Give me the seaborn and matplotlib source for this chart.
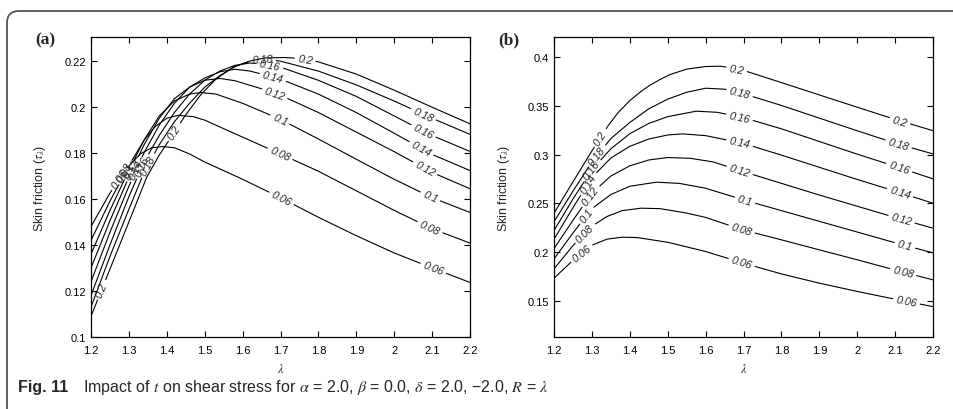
import numpy as np
import pandas as pd
import matplotlib
matplotlib.use("Agg")
import matplotlib.pyplot as plt
import matplotlib.patches as mpatches
from matplotlib.transforms import IdentityTransform
import seaborn as sns

# ---------------- data: panel (a) ----------------
t_labels = ["0.06", "0.08", "0.1", "0.12", "0.14", "0.16", "0.18", "0.2"]

a_006_x = [1.2, 1.25, 1.29, 1.33, 1.36, 1.39, 1.42, 1.46, 1.5, 1.6, 1.7, 1.8, 1.9, 2.0, 2.1, 2.2]
a_006_y = [0.148, 0.1625, 0.1725, 0.1795, 0.1822, 0.1827, 0.1822, 0.1795, 0.176, 0.1685, 0.1605, 0.152, 0.144, 0.1365, 0.130, 0.1237]
a_008_x = [1.2, 1.25, 1.3, 1.34, 1.37, 1.4, 1.43, 1.47, 1.5, 1.6, 1.7, 1.8, 1.9, 2.0, 2.1, 2.2]
a_008_y = [0.142, 0.159, 0.1745, 0.1855, 0.1915, 0.195, 0.1963, 0.1957, 0.1942, 0.1868, 0.1795, 0.172, 0.1635, 0.155, 0.147, 0.1408]
a_010_x = [1.2, 1.25, 1.3, 1.34, 1.38, 1.42, 1.46, 1.49, 1.53, 1.6, 1.7, 1.8, 1.9, 2.0, 2.1, 2.2]
a_010_y = [0.136, 0.155, 0.1725, 0.1855, 0.196, 0.2025, 0.2055, 0.2062, 0.2055, 0.2015, 0.1945, 0.186, 0.1772, 0.1685, 0.1605, 0.1541]
a_012_x = [1.2, 1.25, 1.3, 1.34, 1.38, 1.42, 1.46, 1.5, 1.54, 1.58, 1.65, 1.7, 1.8, 1.9, 2.0, 2.1, 2.2]
a_012_y = [0.130, 0.1505, 0.1695, 0.1835, 0.195, 0.2035, 0.2085, 0.2115, 0.2123, 0.2113, 0.2078, 0.205, 0.1975, 0.189, 0.1805, 0.1715, 0.1644]
a_014_x = [1.2, 1.25, 1.3, 1.34, 1.38, 1.42, 1.46, 1.5, 1.54, 1.58, 1.62, 1.7, 1.8, 1.9, 2.0, 2.1, 2.2]
a_014_y = [0.124, 0.1455, 0.1655, 0.180, 0.192, 0.2015, 0.2085, 0.2125, 0.2152, 0.2163, 0.2155, 0.212, 0.2055, 0.1975, 0.1885, 0.1793, 0.1723]
a_016_x = [1.2, 1.25, 1.3, 1.34, 1.38, 1.42, 1.46, 1.5, 1.54, 1.58, 1.62, 1.66, 1.7, 1.8, 1.9, 2.0, 2.1, 2.2]
a_016_y = [0.118, 0.140, 0.161, 0.176, 0.1875, 0.1975, 0.2055, 0.2115, 0.2155, 0.218, 0.219, 0.2185, 0.2172, 0.2115, 0.2045, 0.196, 0.1875, 0.1806]
a_018_x = [1.2, 1.25, 1.3, 1.34, 1.38, 1.42, 1.46, 1.5, 1.54, 1.58, 1.62, 1.66, 1.7, 1.8, 1.9, 2.0, 2.1, 2.2]
a_018_y = [0.113, 0.135, 0.1555, 0.1715, 0.1835, 0.1935, 0.2015, 0.2085, 0.2135, 0.2175, 0.2198, 0.2206, 0.2198, 0.2155, 0.2095, 0.2025, 0.195, 0.188]
a_020_x = [1.2, 1.25, 1.3, 1.347, 1.38, 1.42, 1.45, 1.49, 1.53, 1.575, 1.62, 1.66, 1.71, 1.75, 1.8, 1.9, 2.0, 2.1, 2.2]
a_020_y = [0.109, 0.1295, 0.150, 0.1694, 0.179, 0.189, 0.1965, 0.2053, 0.2121, 0.2172, 0.2199, 0.2212, 0.2214, 0.221, 0.2195, 0.2142, 0.2072, 0.1998, 0.1926]

# ---------------- data: panel (b) ----------------
b_006_x = [1.2, 1.25, 1.3, 1.34, 1.38, 1.42, 1.5, 1.6, 1.7, 1.8, 1.9, 2.0, 2.1, 2.2]
b_006_y = [0.173, 0.1915, 0.207, 0.2132, 0.2152, 0.2148, 0.21, 0.2005, 0.1885, 0.1775, 0.168, 0.1595, 0.1515, 0.1439]
b_008_x = [1.2, 1.25, 1.3, 1.34, 1.38, 1.43, 1.48, 1.55, 1.6, 1.7, 1.8, 1.9, 2.0, 2.1, 2.2]
b_008_y = [0.1826, 0.2065, 0.2265, 0.2365, 0.2425, 0.245, 0.2445, 0.240, 0.2355, 0.2225, 0.2125, 0.2022, 0.192, 0.1815, 0.1714]
b_010_x = [1.2, 1.25, 1.3, 1.35, 1.4, 1.47, 1.53, 1.6, 1.7, 1.8, 1.9, 2.0, 2.1, 2.2]
b_010_y = [0.1929, 0.2195, 0.2445, 0.259, 0.2675, 0.2717, 0.2705, 0.2655, 0.2535, 0.2425, 0.2315, 0.2205, 0.2095, 0.1991]
b_012_x = [1.2, 1.25, 1.3, 1.35, 1.4, 1.45, 1.5, 1.56, 1.62, 1.7, 1.8, 1.9, 2.0, 2.1, 2.2]
b_012_y = [0.2035, 0.2325, 0.2605, 0.278, 0.2885, 0.2945, 0.297, 0.2962, 0.2925, 0.2825, 0.2705, 0.2585, 0.247, 0.2355, 0.2244]
b_014_x = [1.2, 1.25, 1.3, 1.35, 1.4, 1.45, 1.5, 1.54, 1.6, 1.7, 1.8, 1.9, 2.0, 2.1, 2.2]
b_014_y = [0.213, 0.2455, 0.2765, 0.2965, 0.3085, 0.316, 0.3202, 0.3213, 0.3195, 0.3115, 0.2995, 0.287, 0.2745, 0.2625, 0.2501]
b_016_x = [1.2, 1.25, 1.3, 1.35, 1.4, 1.45, 1.5, 1.575, 1.63, 1.7, 1.8, 1.9, 2.0, 2.1, 2.2]
b_016_y = [0.222, 0.2545, 0.2845, 0.306, 0.3215, 0.332, 0.339, 0.3446, 0.3435, 0.338, 0.3265, 0.3135, 0.3005, 0.288, 0.2751]
b_018_x = [1.2, 1.25, 1.3, 1.35, 1.4, 1.45, 1.5, 1.55, 1.6, 1.65, 1.7, 1.8, 1.9, 2.0, 2.1, 2.2]
b_018_y = [0.231, 0.2625, 0.2925, 0.3165, 0.333, 0.347, 0.357, 0.364, 0.3682, 0.3672, 0.3625, 0.3505, 0.3375, 0.3245, 0.3118, 0.3007]
b_020_x = [1.2, 1.25, 1.3, 1.343, 1.37, 1.4, 1.43, 1.453, 1.48, 1.506, 1.55, 1.6, 1.64, 1.7, 1.8, 1.9, 2.0, 2.1, 2.2]
b_020_y = [0.2398, 0.272, 0.3038, 0.3298, 0.3435, 0.3555, 0.365, 0.3712, 0.3772, 0.3822, 0.3878, 0.3905, 0.3908, 0.3865, 0.374, 0.3613, 0.3487, 0.3362, 0.3246]

x_ticks = [1.2, 1.3, 1.4, 1.5, 1.6, 1.7, 1.8, 1.9, 2.0, 2.1, 2.2]
x_ticklabels = ["1.2", "1.3", "1.4", "1.5", "1.6", "1.7", "1.8", "1.9", "2", "2.1", "2.2"]
a_yticks = [0.1, 0.12, 0.14, 0.16, 0.18, 0.2, 0.22]
a_yticklabels = ["0.1", "0.12", "0.14", "0.16", "0.18", "0.2", "0.22"]
b_yticks = [0.15, 0.2, 0.25, 0.3, 0.35, 0.4]
b_yticklabels = ["0.15", "0.2", "0.25", "0.3", "0.35", "0.4"]

# label placement (x positions along each curve) -- layout only
a_label_x = [[1.275, 1.703, 2.103], [1.29, 1.699, 2.094], [1.30, 1.699, 2.095], [1.31, 1.685, 2.081],
             [1.32, 1.68, 2.072], [1.335, 1.672, 2.077], [1.35, 1.652, 2.077], [1.228, 1.42, 1.765]]
b_label_x = [[1.273, 1.695, 2.13], [1.282, 1.695, 2.121], [1.286, 1.704, 2.126], [1.295, 1.69, 2.117],
             [1.29, 1.69, 2.113], [1.299, 1.69, 2.111], [1.313, 1.69, 2.109], [1.322, 1.682, 2.113]]

curves_a = [(a_006_x, a_006_y), (a_008_x, a_008_y), (a_010_x, a_010_y), (a_012_x, a_012_y),
            (a_014_x, a_014_y), (a_016_x, a_016_y), (a_018_x, a_018_y), (a_020_x, a_020_y)]
curves_b = [(b_006_x, b_006_y), (b_008_x, b_008_y), (b_010_x, b_010_y), (b_012_x, b_012_y),
            (b_014_x, b_014_y), (b_016_x, b_016_y), (b_018_x, b_018_y), (b_020_x, b_020_y)]

sns.set_style("ticks")
plt.rcParams["font.family"] = ["Liberation Sans", "DejaVu Sans"]
plt.rcParams["mathtext.fontset"] = "stix"

fig = plt.figure(figsize=(9.54, 4.10), dpi=100)
renderer = fig.canvas.get_renderer()
ax_a = fig.add_axes([91 / 954, 72 / 410, 379 / 954, 300 / 410])
ax_b = fig.add_axes([554 / 954, 72 / 410, 379 / 954, 300 / 410])

LABEL_FS = 7.8
GAP_MARGIN = 3.5  # px on each side of a contour label


def split_with_labels(ax, xs, ys, lab_xs, text):
    """Place inline labels on a curve and return the line pieces between them."""
    xs = np.asarray(xs, float)
    ys = np.asarray(ys, float)
    pts = ax.transData.transform(np.column_stack([xs, ys]))
    s = np.concatenate([[0.0], np.cumsum(np.hypot(np.diff(pts[:, 0]), np.diff(pts[:, 1])))])
    gaps = []
    for x0 in lab_xs:
        s0 = np.interp(x0, xs, s)
        c = np.array([np.interp(s0, s, pts[:, 0]), np.interp(s0, s, pts[:, 1])])
        a = np.array([np.interp(s0 - 5, s, pts[:, 0]), np.interp(s0 - 5, s, pts[:, 1])])
        b = np.array([np.interp(s0 + 5, s, pts[:, 0]), np.interp(s0 + 5, s, pts[:, 1])])
        ang = np.degrees(np.arctan2(b[1] - a[1], b[0] - a[0]))
        cd = ax.transData.inverted().transform(c)
        txt = ax.text(cd[0], cd[1], text, rotation=0, rotation_mode="anchor",
                      ha="center", va="center", fontsize=LABEL_FS, style="italic", zorder=5)
        w = txt.get_window_extent(renderer).width
        txt.set_rotation(ang)
        gaps.append((s0 - w / 2 - GAP_MARGIN, s0 + w / 2 + GAP_MARGIN))
    gaps.sort()
    bounds = []
    start = 0.0
    for g0, g1 in gaps:
        bounds.append((start, g0))
        start = g1
    bounds.append((start, s[-1]))
    pieces = []
    for lo, hi in bounds:
        if hi <= lo:
            continue
        inner = (s > lo) & (s < hi)
        ss = np.concatenate([[lo], s[inner], [hi]])
        px = np.interp(ss, s, pts[:, 0])
        py = np.interp(ss, s, pts[:, 1])
        pieces.append(ax.transData.inverted().transform(np.column_stack([px, py])))
    return pieces


def setup(ax, curves, label_x, ylim, yticks, yticklabels):
    ax.set_xlim(1.2, 2.2)
    ax.set_ylim(*ylim)
    rows = []
    for lab, (xs, ys), lx in zip(t_labels, curves, label_x):
        for k, piece in enumerate(split_with_labels(ax, xs, ys, lx, lab)):
            for x, y in piece:
                rows.append({"lam": x, "tau": y, "seg": f"{lab}_{k}"})
    df = pd.DataFrame(rows)
    sns.lineplot(data=df, x="lam", y="tau", units="seg", estimator=None, sort=False,
                 color="black", lw=0.8, ax=ax, legend=False)
    ax.set_xlim(1.2, 2.2)
    ax.set_ylim(*ylim)
    ax.set_xticks(x_ticks)
    ax.set_xticklabels(x_ticklabels)
    ax.set_yticks(yticks)
    ax.set_yticklabels(yticklabels)
    ax.tick_params(direction="in", top=True, right=True, length=4, width=0.8,
                   labelsize=8, colors="black")
    ax.tick_params(axis="x", pad=6)
    ax.tick_params(axis="y", pad=3.5)
    for sp in ax.spines.values():
        sp.set_linewidth(0.9)
        sp.set_color("black")
    ax.set_xlabel("$\\lambda$", fontsize=9)
    ax.set_ylabel("Skin friction ($\\tau_\\lambda$)", fontsize=9)


setup(ax_a, curves_a, a_label_x, (0.1, 0.2303), a_yticks, a_yticklabels)
setup(ax_b, curves_b, b_label_x, (0.1127, 0.4208), b_yticks, b_yticklabels)

ax_a.yaxis.set_label_coords(-0.1135, 0.5)
ax_b.yaxis.set_label_coords(-0.1116, 0.5)
ax_a.xaxis.set_label_coords(0.5, -0.085)
ax_b.xaxis.set_label_coords(0.5, -0.085)

fig.text(35 / 954, 1 - 40 / 410, "(a)", fontsize=12.5, weight="bold", va="center",
         family=["Liberation Serif", "DejaVu Serif"])
fig.text(498 / 954, 1 - 40 / 410, "(b)", fontsize=12.5, weight="bold", va="center",
         family=["Liberation Serif", "DejaVu Serif"])

fig.text(18 / 954, 1 - 388 / 410, "Fig. 11", fontsize=11.5, weight="bold", va="center")
fig.text(83 / 954, 1 - 388 / 410,
         "Impact of $t$ on shear stress for $\\alpha$ = 2.0, $\\beta$ = 0.0, $\\delta$ = 2.0, \u22122.0, $R$ = $\\lambda$",
         fontsize=11.5, va="center")

border = mpatches.FancyBboxPatch((7, -40), 1000, 410 - 12 + 40,
                                 boxstyle="round,pad=0,rounding_size=12",
                                 transform=IdentityTransform(), fill=False,
                                 ec="#555555", lw=1.3)
fig.add_artist(border)

fig.savefig("out.png", dpi=100)
